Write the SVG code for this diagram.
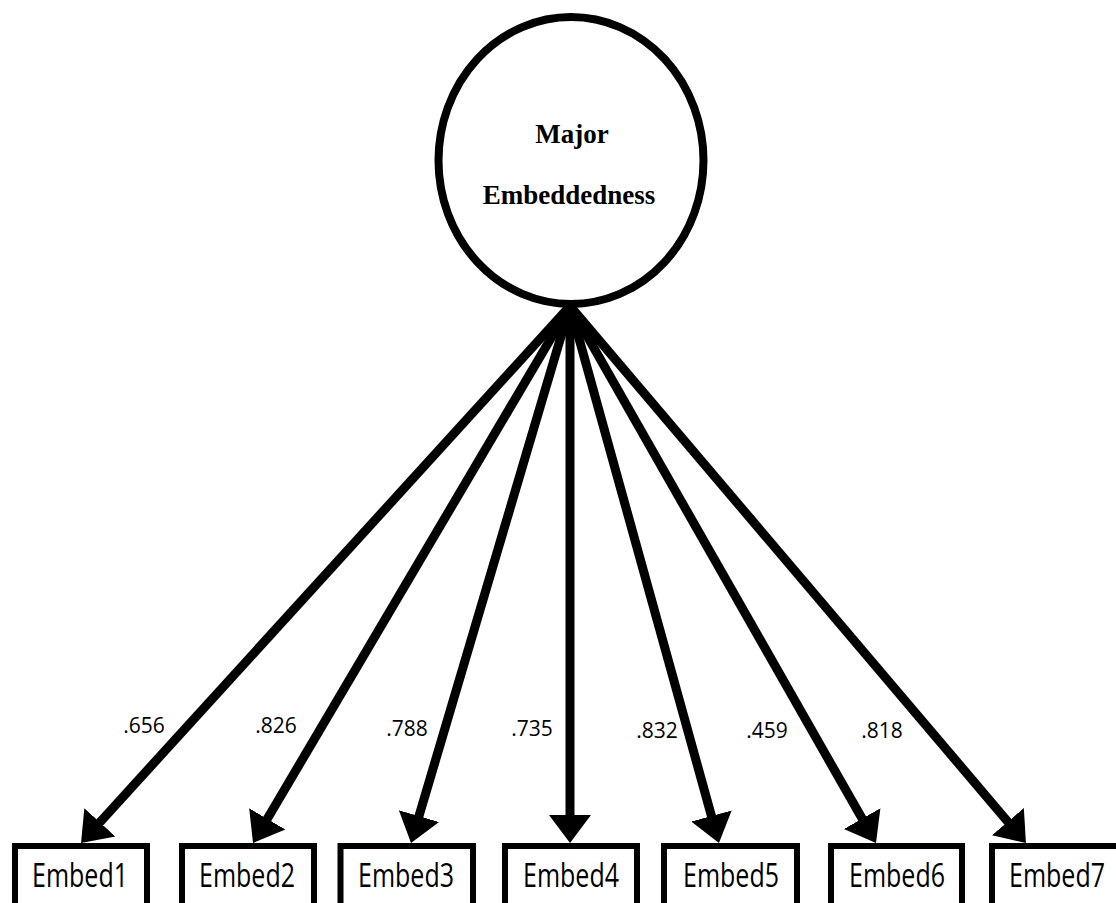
<svg xmlns="http://www.w3.org/2000/svg" width="1116" height="903" viewBox="0 0 1116 903">
<style>
.bg{fill:#ffffff}
.latent{fill:#ffffff;stroke:#000000;stroke-width:8}
.box{fill:#ffffff;stroke:#000000;stroke-width:6}
.lt{font-family:"Liberation Serif","Times New Roman",serif;font-weight:bold;font-size:27px;fill:#000000;text-anchor:middle}
.bt{font-family:"Open Sans","Noto Sans",sans-serif;font-size:25px;fill:#000000;text-anchor:middle}
.lab{font-family:"Open Sans","Noto Sans",sans-serif;font-size:21px;fill:#000000;text-anchor:middle}
.edge{stroke:#000000;stroke-width:9;fill:none;marker-end:url(#ah)}
</style>
<defs>
<marker id="ah" markerUnits="userSpaceOnUse" markerWidth="30" markerHeight="44" viewBox="0 -22 30 44" refX="8" refY="0" orient="auto">
<path d="M0,-21 L28,0 L0,21 Z" fill="#000000"/>
</marker>
</defs>
<rect class="bg" x="0" y="0" width="1116" height="903"/>
<g id="connectors">
<line class="edge" x1="570" y1="306" x2="94.5" y2="828.2"/>
<line class="edge" x1="570" y1="306" x2="263.2" y2="825.8"/>
<line class="edge" x1="570" y1="306" x2="416.7" y2="823.8"/>
<line class="edge" x1="570" y1="306" x2="570" y2="823"/>
<line class="edge" x1="570" y1="306" x2="713.6" y2="823.7"/>
<line class="edge" x1="570" y1="306" x2="866.1" y2="825.6"/>
<line class="edge" x1="570" y1="306" x2="1013" y2="827.8"/>
</g>
<g id="labels">
<text class="lab" x="144" y="733">.656</text>
<text class="lab" x="276" y="733">.826</text>
<text class="lab" x="407" y="736">.788</text>
<text class="lab" x="532" y="736">.735</text>
<text class="lab" x="657" y="738">.832</text>
<text class="lab" x="767" y="738">.459</text>
<text class="lab" x="882" y="738">.818</text>
</g>
<g id="major-embeddedness">
<ellipse class="latent" cx="571" cy="160.5" rx="132.5" ry="143.5"/>
<text class="lt" x="572" y="143">Major</text>
<text class="lt" x="569" y="204">Embeddedness</text>
</g>
<g id="embed1">
<rect class="box" x="15" y="846" width="132" height="80"/>
<text class="bt" transform="translate(80,887) scale(1,1.32)">Embed1</text>
</g>
<g id="embed2">
<rect class="box" x="182" y="846" width="132" height="80"/>
<text class="bt" transform="translate(247,887) scale(1,1.32)">Embed2</text>
</g>
<g id="embed3">
<rect class="box" x="340.5" y="846" width="132.5" height="80"/>
<text class="bt" transform="translate(406,887) scale(1,1.32)">Embed3</text>
</g>
<g id="embed4">
<rect class="box" x="505" y="846" width="132" height="80"/>
<text class="bt" transform="translate(571,887) scale(1,1.32)">Embed4</text>
</g>
<g id="embed5">
<rect class="box" x="664" y="846" width="133" height="80"/>
<text class="bt" transform="translate(731,887) scale(1,1.32)">Embed5</text>
</g>
<g id="embed6">
<rect class="box" x="831" y="846" width="131" height="80"/>
<text class="bt" transform="translate(897,887) scale(1,1.32)">Embed6</text>
</g>
<g id="embed7">
<rect class="box" x="992" y="846" width="135" height="80"/>
<text class="bt" transform="translate(1057,887) scale(1,1.32)">Embed7</text>
</g>
</svg>
